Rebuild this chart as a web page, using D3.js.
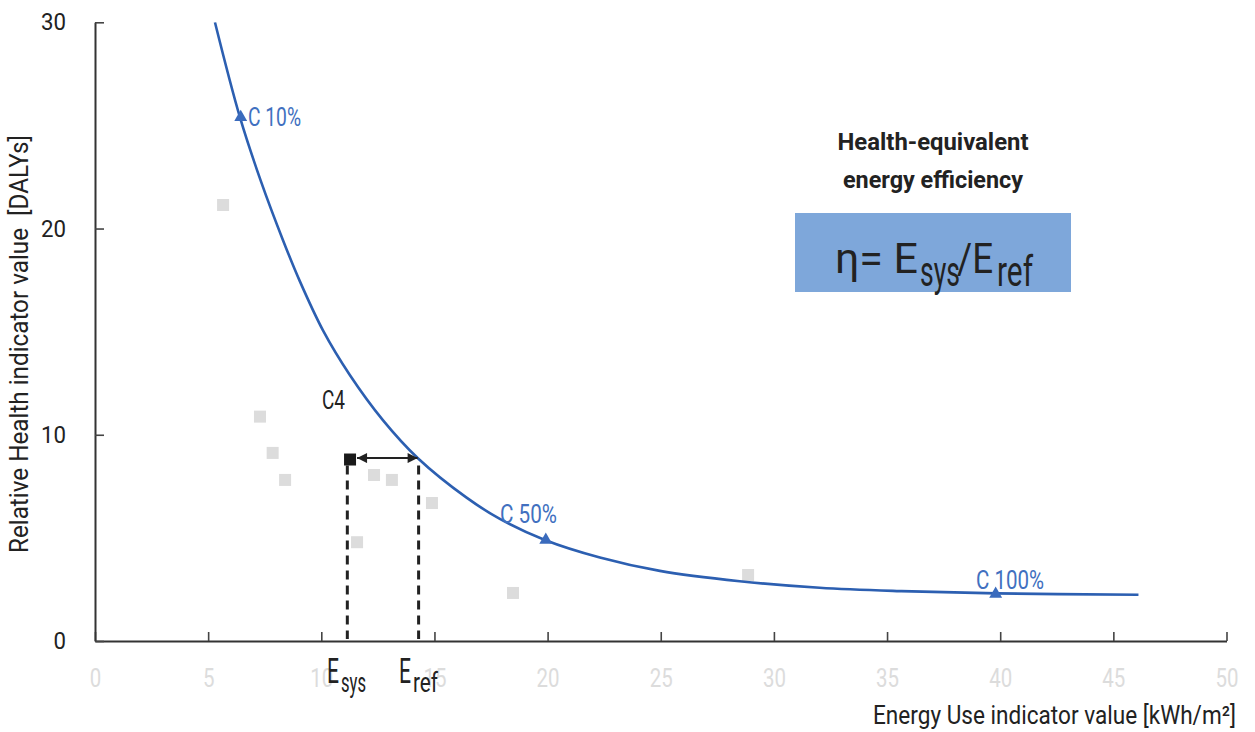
<!DOCTYPE html>
<html>
<head>
<meta charset="utf-8">
<script src="https://cdn.jsdelivr.net/npm/d3@7/dist/d3.min.js"></script>
<style>
  html, body { margin: 0; padding: 0; background: #fff; }
  svg { display: block; }
  text { font-family: Roboto, "Noto Sans", sans-serif; }
</style>
</head>
<body>
<svg id="chart" width="1255" height="732"></svg>
<script>
// ---------- data ----------
const xTickValues = [0, 5, 10, 15, 20, 25, 30, 35, 40, 45, 50];
const yTickValues = [0, 10, 20, 30];

// reference curve
const curveX = [5.3, 6.4, 7.33, 8.32, 9.05, 10.08, 11.26, 12.73, 14.28, 16.42, 17.89, 19.88, 22.31, 24.96, 28.49, 32.02, 35.56, 39.83, 46.11];
const curveY = [30.0, 25.41, 22.3, 19.4, 17.45, 15.05, 12.9, 10.7, 8.85, 6.95, 5.92, 4.9, 4.05, 3.4, 2.9, 2.58, 2.42, 2.31, 2.24];

// labelled reference points on the curve
const refNames = ["C 10%", "C 50%", "C 100%"];
const refX = [6.44, 19.92, 39.8];
const refY = [25.4, 4.9, 2.28];

// other systems (grey squares)
const sysX = [5.66, 7.29, 7.85, 8.40, 11.58, 12.33, 13.12, 14.89, 18.47, 28.86];
const sysY = [21.14, 10.88, 9.12, 7.81, 4.79, 8.05, 7.81, 6.69, 2.33, 3.2];

// highlighted system C4
const c4Name = "C4";
const c4X = 11.27;
const c4Y = 8.8;
const eSys = 11.15;
const eRef = 14.3;
const arrowY = 8.87;

// ---------- layout ----------
const svg = d3.select("#chart");
const mLeft = 95, mRight = 1226.5, mTop = 22.3, mBottom = 641;
const x = d3.scaleLinear().domain([0, 50]).range([mLeft, mRight]);
const y = d3.scaleLinear().domain([0, 30]).range([mBottom, mTop]);

const blue = "#2c5fb1";
const blueText = "#4170c0";
const dark = "#222";
const fontFam = 'Roboto, "Noto Sans", sans-serif';

// squeeze text to the condensed widths seen in the reference
function fit(sel, w) { return sel.attr("textLength", w).attr("lengthAdjust", "spacingAndGlyphs"); }

const defs = svg.append("defs");
defs.append("clipPath").attr("id", "plotclip")
  .append("rect").attr("x", mLeft).attr("y", mTop).attr("width", mRight - mLeft).attr("height", mBottom - mTop);

// arrow markers
defs.append("marker").attr("id", "arrEnd").attr("viewBox", "0 0 10 10")
  .attr("refX", 10).attr("refY", 5).attr("markerWidth", 5.5).attr("markerHeight", 5)
  .attr("markerUnits", "strokeWidth").attr("orient", "auto")
  .append("path").attr("d", "M0,0 L10,5 L0,10 z").attr("fill", dark);
defs.append("marker").attr("id", "arrStart").attr("viewBox", "0 0 10 10")
  .attr("refX", 0).attr("refY", 5).attr("markerWidth", 5.5).attr("markerHeight", 5)
  .attr("markerUnits", "strokeWidth").attr("orient", "auto")
  .append("path").attr("d", "M10,0 L0,5 L10,10 z").attr("fill", dark);

// ---------- axes ----------
const xAxis = d3.axisBottom(x).tickValues(xTickValues).tickSize(-9).tickSizeOuter(0).tickPadding(28);
const gx = svg.append("g").attr("transform", `translate(0,${mBottom})`).call(xAxis);
gx.select(".domain").attr("stroke", "#333").attr("stroke-width", 2);
gx.selectAll(".tick line").attr("stroke", "#444").attr("stroke-width", 1.6);
gx.selectAll(".tick text").attr("fill", "#dcdcdc").attr("font-size", 26).attr("font-family", fontFam)
  .each(function (d) { fit(d3.select(this), String(d).length * 11.5); });

const yAxis = d3.axisLeft(y).tickValues(yTickValues).tickSize(-9).tickSizeOuter(0).tickPadding(29);
const gy = svg.append("g").attr("transform", `translate(${mLeft},0)`).call(yAxis);
gy.select(".domain").attr("stroke", "#333").attr("stroke-width", 2);
gy.selectAll(".tick line").attr("stroke", "#444").attr("stroke-width", 1.6);
gy.selectAll(".tick text").attr("fill", dark).attr("font-size", 24).attr("font-family", fontFam)
  .each(function (d) { fit(d3.select(this), String(d).length * 12.5); });

// axis titles
fit(svg.append("text")
  .attr("x", 873).attr("y", 724).attr("text-anchor", "start")
  .attr("font-size", 26).attr("fill", dark)
  .text("Energy Use indicator value [kWh/m²]"), 363);

fit(svg.append("text")
  .attr("transform", "translate(28,344) rotate(-90)")
  .attr("text-anchor", "middle").attr("font-size", 25).attr("fill", dark)
  .style("white-space", "pre")
  .text("Relative Health indicator value  [DALYs]"), 418);

// ---------- grey squares ----------
const sq = 12;
svg.append("g").selectAll("rect").data(sysX.map((d, i) => [d, sysY[i]])).join("rect")
  .attr("x", d => x(d[0]) - sq / 2).attr("y", d => y(d[1]) - sq / 2)
  .attr("width", sq).attr("height", sq).attr("fill", "#dcdcdc");

// ---------- curve ----------
const line = d3.line().x(d => x(d[0])).y(d => y(d[1])).curve(d3.curveCatmullRom.alpha(0.5));
svg.append("path").datum(curveX.map((d, i) => [d, curveY[i]]))
  .attr("clip-path", "url(#plotclip)")
  .attr("d", line).attr("fill", "none").attr("stroke", blue).attr("stroke-width", 2.6);

// ---------- dashed verticals ----------
[eSys, eRef].forEach(v => {
  svg.append("line").attr("x1", x(v)).attr("x2", x(v))
    .attr("y1", y(c4Y) + 6).attr("y2", mBottom - 2)
    .attr("stroke", dark).attr("stroke-width", 3).attr("stroke-dasharray", "9,6");
});

// arrow
svg.append("line").attr("x1", x(c4X) + 7).attr("x2", x(eRef) - 1)
  .attr("y1", y(arrowY)).attr("y2", y(arrowY))
  .attr("stroke", dark).attr("stroke-width", 2)
  .attr("marker-start", "url(#arrStart)").attr("marker-end", "url(#arrEnd)");

// C4 black square
svg.append("rect").attr("x", x(c4X) - 6).attr("y", y(c4Y) - 6)
  .attr("width", 12).attr("height", 12).attr("fill", "#1a1a1a");
fit(svg.append("text").attr("x", 322).attr("y", 409).attr("font-size", 26).attr("fill", dark).text(c4Name), 23);

// ---------- triangles & labels ----------
const tri = d3.symbol().type(d3.symbolTriangle).size(72);
svg.append("g").selectAll("path").data(refX.map((d, i) => [d, refY[i]])).join("path")
  .attr("transform", d => `translate(${x(d[0])},${y(d[1])})`)
  .attr("d", tri).attr("fill", "#3a6bbd");

const labelPos = [[248, 126], [500, 523], [976, 589]];
const labelW = [53, 57, 68];
svg.append("g").selectAll("text").data(refNames).join("text")
  .attr("x", (d, i) => labelPos[i][0]).attr("y", (d, i) => labelPos[i][1])
  .attr("font-size", 26).attr("fill", blueText)
  .attr("textLength", (d, i) => labelW[i]).attr("lengthAdjust", "spacingAndGlyphs")
  .text(d => d);

// ---------- E_sys / E_ref labels ----------
function eLabel(xPos, sub) {
  const t = svg.append("text").attr("x", xPos).attr("y", 683).attr("fill", dark);
  fit(t.append("tspan").attr("font-size", 35).text("E"), 12);
  fit(t.append("tspan").attr("font-size", 28).attr("dx", 2).attr("dy", 9).text(sub), 25);
}
eLabel(327, "sys");
eLabel(399, "ref");

// ---------- annotation box ----------
fit(svg.append("text").attr("x", 933).attr("y", 150).attr("text-anchor", "middle")
  .attr("font-size", 24).attr("font-weight", "bold").attr("fill", dark).text("Health-equivalent"), 191);
fit(svg.append("text").attr("x", 933).attr("y", 188).attr("text-anchor", "middle")
  .attr("font-size", 24).attr("font-weight", "bold").attr("fill", dark).text("energy efficiency"), 180);

svg.append("rect").attr("x", 795).attr("y", 213).attr("width", 276).attr("height", 79).attr("fill", "#7ea7da");
const f = svg.append("text").attr("x", 835).attr("y", 273).attr("fill", dark).attr("font-size", 42);
fit(f.append("tspan").text("η= E"), 83);
fit(f.append("tspan").attr("dx", 2).attr("dy", 13).text("sys"), 40);
fit(f.append("tspan").attr("dx", -3).attr("dy", -13).text("/E"), 36);
fit(f.append("tspan").attr("dx", 4).attr("dy", 13).text("ref"), 36);
</script>
</body>
</html>
